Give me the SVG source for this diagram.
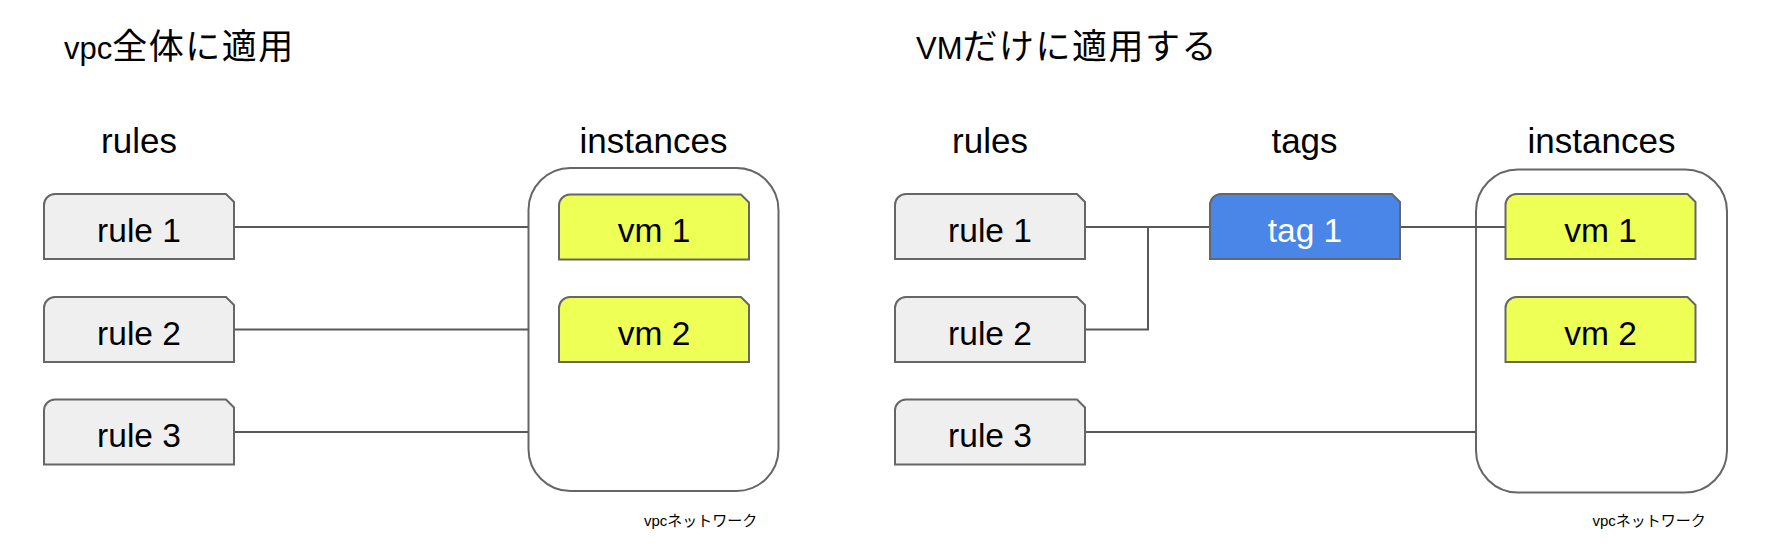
<svg xmlns="http://www.w3.org/2000/svg" xmlns:xlink="http://www.w3.org/1999/xlink" width="1783" height="549" viewBox="0 0 1783 549">
<style>
text{font-family:"Liberation Sans",Arial,"Noto Sans CJK JP",sans-serif;fill:#000}
.cjk{font-family:"Noto Sans CJK JP","Noto Sans CJK SC",sans-serif}
.title{font-size:31px}
.title .cjk{font-size:35px;letter-spacing:1.5px}
.head{font-size:35px;text-anchor:middle}
.lbl{font-size:33.5px;text-anchor:middle}
.note{font-size:15px}
.rule{fill:#efefef;stroke:#666;stroke-width:2}
.vm{fill:#eeff55;stroke:#666;stroke-width:2}
.tag{fill:#4a86e8;stroke:#666;stroke-width:2}
.box{fill:#fff;stroke:#666;stroke-width:2}
.conn path{fill:none;stroke:#595959;stroke-width:2}
</style>
<defs>
<path id="card" d="M0,65 V11 A11,11 0 0 1 11,0 H182 L190,8 V65 Z"/>
</defs>
<rect width="1783" height="549" fill="#fff"/>
<text class="title" x="64" y="59">vpc<tspan class="cjk">全体に適用</tspan></text>
<text class="title" x="916" y="59">VM<tspan class="cjk">だけに適用する</tspan></text>
<text class="head" x="139" y="152.5">rules</text>
<text class="head" x="653.5" y="152.5">instances</text>
<text class="head" x="990" y="152.5">rules</text>
<text class="head" x="1304.5" y="152.5">tags</text>
<text class="head" x="1601.5" y="152.5">instances</text>
<g id="vpc-left"><rect class="box" x="528.5" y="168" width="250" height="323" rx="42"/><text class="note" x="644" y="526">vpc<tspan class="cjk">ネットワーク</tspan></text></g>
<g id="vpc-right"><rect class="box" x="1476" y="169.5" width="251" height="323" rx="42"/><text class="note" x="1592.5" y="526">vpc<tspan class="cjk">ネットワーク</tspan></text></g>
<g class="conn" id="connectors">
<path d="M234,227 H528.5"/>
<path d="M234,329.5 H528.5"/>
<path d="M234,432 H528.5"/>
<path d="M1085,227 H1210"/>
<path d="M1085,329.5 H1148 V227"/>
<path d="M1400,227 H1505.5"/>
<path d="M1085,432 H1476"/>
</g>
<g id="l-rule1"><use xlink:href="#card" class="rule" transform="translate(44,194)"/><text class="lbl" x="139" y="242">rule 1</text></g>
<g id="l-rule2"><use xlink:href="#card" class="rule" transform="translate(44,297)"/><text class="lbl" x="139" y="344.5">rule 2</text></g>
<g id="l-rule3"><use xlink:href="#card" class="rule" transform="translate(44,399.5)"/><text class="lbl" x="139" y="447">rule 3</text></g>
<g id="l-vm1"><use xlink:href="#card" class="vm" transform="translate(559,194.5)"/><text class="lbl" x="654" y="242">vm 1</text></g>
<g id="l-vm2"><use xlink:href="#card" class="vm" transform="translate(559,297)"/><text class="lbl" x="654" y="344.5">vm 2</text></g>
<g id="r-rule1"><use xlink:href="#card" class="rule" transform="translate(895,194)"/><text class="lbl" x="990" y="242">rule 1</text></g>
<g id="r-rule2"><use xlink:href="#card" class="rule" transform="translate(895,297)"/><text class="lbl" x="990" y="344.5">rule 2</text></g>
<g id="r-rule3"><use xlink:href="#card" class="rule" transform="translate(895,399.5)"/><text class="lbl" x="990" y="447">rule 3</text></g>
<g id="r-tag1"><use xlink:href="#card" class="tag" transform="translate(1210,194)"/><text class="lbl" x="1305" y="242" style="fill:#fff">tag 1</text></g>
<g id="r-vm1"><use xlink:href="#card" class="vm" transform="translate(1505.5,194)"/><text class="lbl" x="1600.5" y="242">vm 1</text></g>
<g id="r-vm2"><use xlink:href="#card" class="vm" transform="translate(1505.5,297)"/><text class="lbl" x="1600.5" y="344.5">vm 2</text></g>
</svg>
